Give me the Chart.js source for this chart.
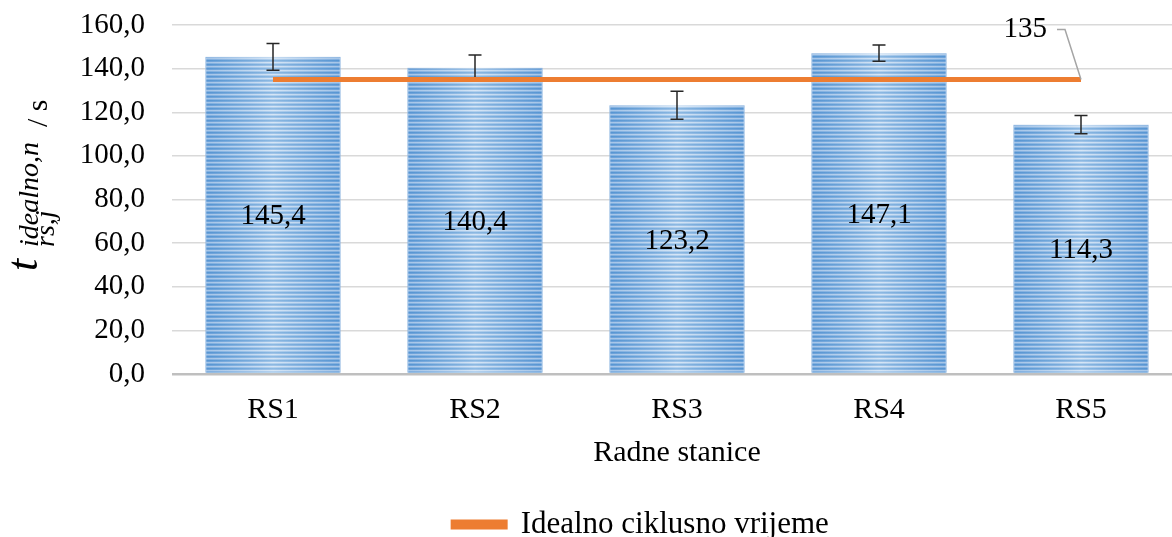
<!DOCTYPE html>
<html>
<head>
<meta charset="utf-8">
<script src="https://cdn.jsdelivr.net/npm/chart.js@4"></script>
<style>
  html, body { margin: 0; padding: 0; background: #fff; overflow: hidden; }
  #wrap { width: 1282px; height: 537px; }
</style>
</head>
<body>
<div id="wrap"><canvas id="myChart" width="1282" height="537"></canvas></div>
<script>
// data
var stations = ['RS1', 'RS2', 'RS3', 'RS4', 'RS5'];
var times = [145.4, 140.4, 123.2, 147.1, 114.3];
var timeErrors = [6.1, 5.9, 6.4, 3.7, 4.2];
var idealCycle = [135, 135, 135, 135, 135];
var idealLabel = '135';
var legendLabel = 'Idealno ciklusno vrijeme';
var xTitle = 'Radne stanice';

var serif = "'Liberation Serif', 'Times New Roman', serif";

function commaNum(v){
  return v.toFixed(1).replace('.', ',');
}

//horizontal stripes like the office fill
function stripePattern(){
  var c = document.createElement('canvas');
  c.width = 4; c.height = 4;
  var g = c.getContext('2d');
  var rows = ['#5b9bd5', '#78abde', '#c4dbf2', '#93bde7'];
  for (var i = 0; i < rows.length; i++){
    g.fillStyle = rows[i];
    g.fillRect(0, i, 4, 1);
  }
  return g.createPattern(c, 'repeat');
}

var extras = {
  id: 'extras',
  afterDatasetDraw: function(chart, args){
    if (args.index !== 0) return;
    var ctx = chart.ctx;
    var y = chart.scales.y;
    var meta = args.meta;
    ctx.save();
    meta.data.forEach(function(bar, i){
      var left = bar.x - bar.width / 2;
      var right = bar.x + bar.width / 2;
      var grad = ctx.createLinearGradient(left, 0, right, 0);
      grad.addColorStop(0, 'rgba(70,130,200,0.25)');
      grad.addColorStop(0.5, 'rgba(255,255,255,0.3)');
      grad.addColorStop(1, 'rgba(70,130,200,0.25)');
      ctx.fillStyle = grad;
      ctx.fillRect(left, bar.y, bar.width, bar.base - bar.y);

      // error bar
      var top = y.getPixelForValue(times[i] + timeErrors[i]);
      var bot = y.getPixelForValue(times[i] - timeErrors[i]);
      ctx.strokeStyle = '#262626';
      ctx.lineWidth = 1.5;
      ctx.beginPath();
      ctx.moveTo(bar.x, top); ctx.lineTo(bar.x, bot);
      ctx.moveTo(bar.x - 6.5, top); ctx.lineTo(bar.x + 6.5, top);
      ctx.moveTo(bar.x - 6.5, bot); ctx.lineTo(bar.x + 6.5, bot);
      ctx.stroke();

      // value label in the middle of the bar
      ctx.fillStyle = '#000';
      ctx.font = '29px ' + serif;
      ctx.textAlign = 'center';
      ctx.textBaseline = 'middle';
      ctx.fillText(commaNum(times[i]), bar.x, (bar.y + bar.base) / 2 + 2);
    });
    ctx.restore();
  },
  afterDraw: function(chart){
    var ctx = chart.ctx;
    ctx.save();
    // callout for the ideal line
    var pts = chart.getDatasetMeta(1).data;
    var p = pts[pts.length - 1];
    ctx.fillStyle = '#000';
    ctx.font = '29px ' + serif;
    ctx.textAlign = 'right';
    ctx.textBaseline = 'middle';
    ctx.fillText(idealLabel, p.x - 34, p.y - 50);
    ctx.strokeStyle = '#a5a5a5';
    ctx.lineWidth = 1.5;
    ctx.beginPath();
    ctx.moveTo(p.x - 24, p.y - 50);
    ctx.lineTo(p.x - 16, p.y - 50);
    ctx.lineTo(p.x, p.y);
    ctx.stroke();

    // y title: t with sub and superscript, then / s
    ctx.translate(37, 277);
    ctx.rotate(-Math.PI / 2);
    ctx.textAlign = 'left';
    ctx.textBaseline = 'alphabetic';
    ctx.font = 'italic 44px ' + serif;
    ctx.fillText('t', 6, 0);
    ctx.font = 'italic 28px ' + serif;
    ctx.fillText('idealno,n', 30, 1);
    ctx.fillText('rs,j', 30, 17);
    ctx.font = '30px ' + serif;
    ctx.fillText('/ s', 150, 10);
    ctx.restore();
  }
};

var ctx = document.getElementById('myChart').getContext('2d');
var chart = new Chart(ctx, {
  type: 'bar',
  data: {
    labels: stations,
    datasets: [{
      label: 'bars',
      data: times,
      backgroundColor: stripePattern(),
      borderColor: '#a9c9ea',
      borderWidth: 1,
      categoryPercentage: 1,
      barPercentage: 0.67,
      order: 1
    }, {
      type: 'line',
      label: legendLabel,
      data: idealCycle,
      borderColor: '#ED7D31',
      backgroundColor: '#ED7D31',
      borderWidth: 5,
      pointRadius: 0,
      order: 0
    }]
  },
  options: {
    responsive: false,
    animation: false,
    layout: { padding: { top: 25, right: 0, bottom: -13, left: 0 } },
    plugins: {
      tooltip: { enabled: false },
      legend: {
        position: 'bottom',
        labels: {
          filter: function(item){ return item.datasetIndex === 1; },
          boxWidth: 52,
          boxHeight: 5,
          padding: 4,
          color: '#000',
          font: { family: serif, size: 31 }
        }
      }
    },
    scales: {
      x: {
        afterFit: function(scale){ scale.height = 131; },
        grid: { display: false, drawTicks: false },
        border: { display: false },
        ticks: { color: '#000', padding: 18, font: { family: serif, size: 30 } },
        title: { display: true, text: xTitle, color: '#000', padding: { top: 7, bottom: 34 }, font: { family: serif, size: 30 } }
      },
      y: {
        min: 0,
        max: 160,
        afterFit: function(scale){ scale.width = 172; },
        border: { display: false },
        grid: {
          drawTicks: true,
          tickLength: 27,
          tickColor: 'rgba(0,0,0,0)',
          color: function(c){ return c.tick.value === 0 ? '#bfbfbf' : '#d9d9d9'; },
          lineWidth: function(c){ return c.tick.value === 0 ? 2.5 : 1.5; }
        },
        ticks: {
          stepSize: 20,
          autoSkip: false,
          padding: 0,
          color: '#000',
          font: { family: serif, size: 29 },
          callback: function(v){ return commaNum(v); }
        }
      },
      // empty axis off-screen on the right, keeps the plot edge and legend centre where the picture has them
      spare: {
        type: 'linear',
        position: 'right',
        afterFit: function(scale){ scale.width = 100; },
        grid: { display: false },
        border: { display: false },
        ticks: { display: false }
      }
    }
  },
  plugins: [extras]
});
</script>
</body>
</html>
